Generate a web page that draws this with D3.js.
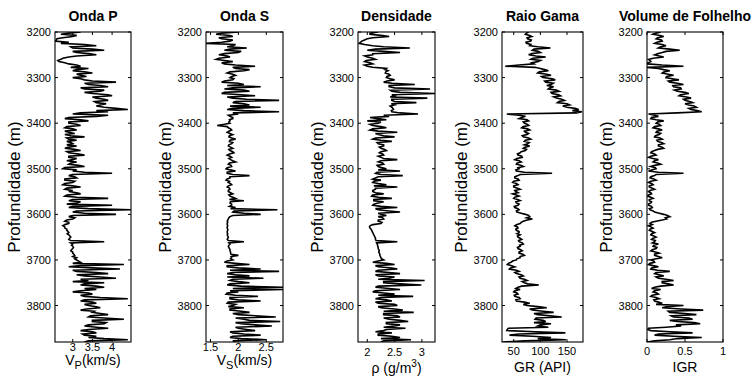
<!DOCTYPE html>
<html>
<head>
<meta charset="utf-8">
<script src="https://cdn.jsdelivr.net/npm/d3@7"></script>
<style>
  body { margin: 0; background: #fff; }
  svg { font-family: "Liberation Sans", Arial, Helvetica, sans-serif; }
</style>
</head>
<body>
<svg id="chart" width="756" height="377"></svg>
<script>
// log samples every 2.5 m, 3200 .. 3880 m
const depth = d3.range(3200, 3881, 2.5);
const depthTicks = [3200, 3300, 3400, 3500, 3600, 3700, 3800];

// Onda P (km/s)
const vp = [
  3.2, 2.9, 2.7, 3.1, 3.0, 2.75, 2.6, 2.58, 2.55, 2.9, 2.7, 3.3, 3.6, 2.95, 3.0, 3.5, 3.8, 3.0, 3.1, 3.4,
  3.6, 3.1, 2.9, 2.75, 2.7, 2.62, 2.65, 2.8, 2.9, 3.1, 3.2, 2.95, 3.4, 3.1, 3.0, 3.3, 3.5, 3.1, 3.2, 3.35,
  3.0, 3.2, 3.3, 3.5, 4.1, 3.3, 3.4, 3.7, 3.9, 3.2, 3.3, 3.8, 3.7, 3.3, 3.5, 3.9, 4.0, 3.5, 3.6, 3.8,
  3.9, 3.55, 3.6, 3.85, 3.7, 3.6, 3.8, 4.1, 4.4, 3.6, 3.9, 3.2, 3.0, 3.9, 3.6, 2.9, 2.8, 3.2, 3.4, 2.9,
  2.9, 3.1, 3.2, 2.85, 2.8, 3.0, 3.1, 2.8, 2.9, 3.05, 2.8, 2.95, 3.3, 2.85, 2.9, 3.1, 2.85, 2.95, 3.0, 2.85,
  3.1, 2.9, 2.8, 3.05, 3.2, 2.85, 2.9, 3.15, 3.3, 2.9, 2.9, 3.1, 3.0, 2.85, 3.1, 2.95, 2.9, 3.15, 3.3, 2.8,
  2.75, 3.1, 3.0, 3.3, 4.0, 3.0, 2.9, 3.05, 3.1, 2.8, 2.8, 3.05, 3.0, 2.8, 2.75, 3.0, 3.2, 2.85, 2.8, 3.0,
  2.9, 3.1, 3.2, 2.85, 2.8, 3.1, 3.9, 3.0, 2.9, 3.2, 3.1, 2.85, 4.0, 3.0, 2.9, 3.4, 4.5, 3.1, 3.0, 3.3,
  4.1, 3.0, 2.9, 3.05, 3.0, 2.85, 2.8, 2.9, 2.9, 2.8, 2.75, 2.8, 2.8, 2.85, 2.85, 2.88, 2.9, 2.86, 2.9, 2.93,
  2.95, 2.92, 2.9, 2.95, 3.8, 2.95, 3.0, 2.97, 3.0, 3.02, 3.0, 2.97, 2.95, 3.0, 3.0, 3.03, 3.05, 3.0, 3.1, 3.05,
  3.1, 3.15, 3.2, 3.0, 4.3, 3.2, 2.9, 3.5, 4.2, 3.0, 3.1, 3.6, 3.9, 3.1, 3.3, 3.7, 4.1, 3.2, 3.4, 3.0,
  3.8, 3.3, 3.2, 3.6, 3.8, 3.3, 3.6, 3.2, 3.0, 3.4, 3.5, 3.2, 3.3, 3.7, 4.4, 3.3, 3.2, 3.5, 3.6, 3.3,
  3.4, 3.6, 3.7, 3.35, 3.2, 3.55, 3.5, 3.7, 3.9, 3.45, 3.4, 3.8, 4.3, 3.5, 3.5, 3.85, 3.8, 3.4, 3.3, 3.6,
  3.9, 3.4, 3.2, 3.5, 3.6, 3.25, 3.3, 3.6, 3.4, 3.8, 4.4, 3.4, 3.3
];

// Onda S (km/s)
const vs = [
  2.0, 1.7, 1.6, 1.85, 1.9, 1.65, 1.7, 1.9, 1.85, 1.7, 1.42, 1.95, 1.9, 1.8, 2.15, 1.85, 1.75, 2.05, 2.0, 1.75,
  1.65, 1.8, 1.85, 1.65, 1.6, 1.75, 1.9, 1.7, 1.75, 1.95, 2.3, 1.9, 1.95, 2.2, 2.1, 1.85, 1.8, 1.9, 1.95, 1.88,
  1.85, 1.92, 1.9, 1.75, 1.7, 2.0, 2.1, 1.8, 2.4, 1.9, 1.75, 2.1, 2.2, 1.75, 1.7, 2.05, 2.3, 1.8, 1.9, 2.15,
  2.73, 1.95, 1.9, 2.1, 2.2, 1.85, 2.4, 1.9, 1.8, 2.1, 2.73, 1.9, 2.0, 1.82, 1.85, 1.9, 1.9, 1.84, 1.85, 1.83,
  1.85, 1.75, 1.62, 1.8, 1.82, 1.86, 1.88, 1.83, 1.8, 1.85, 1.9, 1.84, 1.83, 1.88, 1.95, 1.85, 1.84, 1.9, 1.88, 1.83,
  1.82, 1.86, 1.9, 1.83, 1.85, 1.9, 1.92, 1.84, 1.8, 1.85, 1.88, 1.83, 1.86, 1.9, 1.95, 1.84, 1.82, 1.87, 1.88, 1.8,
  1.78, 1.85, 1.95, 1.8, 1.8, 1.9, 2.2, 1.85, 1.85, 1.8, 1.78, 1.84, 1.82, 1.86, 1.88, 1.82, 1.8, 1.84, 1.85, 1.82,
  1.82, 1.86, 1.9, 1.83, 1.85, 1.9, 1.95, 1.84, 2.1, 1.86, 1.85, 1.88, 1.88, 1.84, 1.95, 1.86, 2.7, 1.92, 1.9, 2.1,
  2.4, 1.9, 1.85, 1.83, 1.82, 1.81, 1.8, 1.81, 1.8, 1.8, 1.81, 1.8, 1.8, 1.81, 1.81, 1.8, 1.8, 1.81, 1.8, 1.81,
  1.82, 1.81, 1.8, 1.82, 2.1, 1.83, 1.85, 1.83, 1.82, 1.83, 1.84, 1.85, 1.85, 1.86, 1.86, 1.87, 2.0, 1.87, 1.88, 1.86,
  1.9, 1.8, 1.75, 1.95, 2.2, 1.8, 1.8, 2.0, 2.4, 1.85, 2.73, 1.9, 1.8, 1.95, 2.2, 1.8, 2.45, 1.9, 1.85, 2.0,
  2.2, 1.85, 1.8, 2.05, 2.8, 1.9, 2.8, 1.85, 2.0, 1.8, 1.78, 1.95, 2.35, 1.85, 1.85, 2.0, 2.4, 1.82, 1.8, 1.95,
  1.9, 1.82, 2.1, 1.85, 1.85, 2.05, 2.2, 1.9, 2.0, 2.3, 2.67, 1.95, 2.1, 2.2, 2.75, 1.95, 2.05, 2.3, 2.6, 1.95,
  2.0, 2.15, 2.3, 1.85, 1.9, 2.1, 2.4, 1.9, 1.85, 2.05, 2.5, 1.9, 1.95
];

// Densidade (g/cm3)
const rho = [
  2.2, 2.05, 2.05, 2.25, 2.4, 2.1, 2.0, 1.95, 1.9, 1.88, 1.85, 1.95, 2.1, 2.3, 2.78, 2.15, 2.0, 2.3, 2.6, 2.1,
  2.1, 1.95, 2.0, 2.1, 2.15, 1.98, 1.95, 2.05, 2.1, 1.95, 2.0, 2.1, 2.35, 2.32, 2.38, 2.34, 2.33, 2.4, 2.42, 2.36,
  2.35, 2.42, 2.5, 2.36, 2.3, 2.45, 2.87, 2.4, 2.4, 2.5, 3.15, 2.42, 2.45, 2.6, 3.24, 2.45, 2.5, 2.42, 3.1, 2.45,
  2.45, 2.5, 2.9, 2.44, 2.5, 2.42, 2.45, 2.47, 2.48, 2.44, 2.45, 2.6, 2.93, 2.3, 2.4, 2.05, 2.2, 2.35, 2.0, 2.25,
  2.2, 2.05, 2.1, 2.25, 2.35, 2.1, 2.05, 2.2, 2.55, 2.15, 2.2, 2.3, 2.5, 2.15, 2.1, 2.25, 2.45, 2.18, 2.2, 2.3,
  2.3, 2.22, 2.25, 2.32, 2.35, 2.25, 2.22, 2.28, 2.3, 2.2, 2.25, 2.3, 2.55, 2.25, 2.2, 2.28, 2.3, 2.18, 2.2, 2.26,
  2.35, 2.2, 2.6, 2.18, 2.15, 2.25, 2.65, 2.2, 2.15, 2.1, 2.25, 2.12, 2.1, 2.2, 2.35, 2.12, 2.55, 2.15, 2.15, 2.1,
  2.1, 2.15, 2.3, 2.1, 2.08, 2.2, 2.45, 2.12, 2.12, 2.3, 2.2, 2.12, 2.1, 2.25, 2.55, 2.15, 2.2, 2.4, 2.6, 2.2,
  2.25, 2.35, 2.2, 2.28, 2.3, 2.2, 2.2, 2.27, 2.25, 2.1, 2.05, 2.04, 2.05, 2.07, 2.08, 2.09, 2.1, 2.11, 2.12, 2.13,
  2.14, 2.15, 2.15, 2.16, 2.55, 2.17, 2.18, 2.19, 2.19, 2.2, 2.2, 2.21, 2.22, 2.21, 2.22, 2.23, 2.23, 2.24, 2.25, 2.26,
  2.3, 2.2, 2.1, 2.35, 2.5, 2.15, 2.2, 2.45, 2.55, 2.2, 2.15, 2.4, 2.6, 2.15, 2.2, 2.5, 2.4, 2.2, 3.05, 2.3,
  2.3, 2.6, 2.99, 2.2, 2.15, 2.4, 2.6, 2.15, 2.1, 2.3, 2.5, 2.2, 2.84, 2.25, 2.15, 2.35, 2.45, 2.15, 2.2, 2.5,
  2.55, 2.2, 2.25, 2.5, 2.65, 2.3, 2.85, 2.3, 2.3, 2.55, 2.6, 2.3, 2.4, 2.6, 2.75, 2.35, 2.35, 2.6, 2.5, 2.3,
  2.7, 2.35, 2.3, 2.15, 2.45, 2.2, 2.2, 2.45, 2.6, 2.25, 2.8, 2.3, 2.25
];

// Raio Gama (API)
const gr = [
  78, 74, 72, 80, 84, 75, 76, 83, 82, 73, 74, 82, 80, 95, 119, 88, 85, 96, 100, 84,
  78, 92, 110, 86, 82, 100, 95, 84, 88, 60, 34, 90, 100, 108, 115, 98, 95, 112, 120, 102,
  105, 122, 128, 108, 110, 124, 120, 112, 125, 118, 115, 130, 135, 120, 122, 134, 138, 125, 130, 140,
  145, 135, 132, 150, 155, 142, 150, 165, 172, 160, 178, 168, 37, 60, 72, 65, 60, 75, 78, 68,
  70, 75, 78, 68, 65, 76, 80, 70, 72, 78, 75, 66, 68, 78, 82, 72, 70, 79, 76, 70,
  80, 72, 68, 74, 72, 64, 62, 57, 58, 65, 66, 56, 52, 60, 64, 56, 55, 63, 68, 58,
  60, 54, 55, 70, 122, 62, 58, 52, 52, 58, 60, 50, 48, 55, 58, 50, 50, 57, 62, 52,
  54, 58, 48, 55, 60, 52, 50, 57, 62, 54, 55, 60, 58, 51, 52, 58, 60, 55, 56, 64,
  72, 78, 80, 74, 85, 75, 68, 64, 62, 55, 52, 57, 58, 54, 55, 60, 60, 56, 62, 57,
  58, 62, 65, 59, 60, 66, 68, 61, 62, 57, 58, 63, 66, 60, 60, 67, 70, 62, 62, 56,
  55, 48, 45, 40, 38, 46, 52, 44, 42, 55, 60, 52, 55, 64, 68, 60, 62, 70, 75, 66,
  70, 76, 97, 65, 58, 54, 62, 52, 50, 56, 58, 51, 52, 60, 62, 54, 55, 70, 80, 68,
  75, 95, 112, 80, 85, 105, 125, 88, 95, 118, 140, 92, 90, 105, 110, 88, 120, 100, 95, 115,
  40, 38, 37, 90, 147, 60, 42, 85, 120, 95, 148, 70, 30
];

// Volume de Folhelho (IGR)
const igr = [
  0.18, 0.12, 0.08, 0.17, 0.22, 0.14, 0.12, 0.19, 0.2, 0.13, 0.1, 0.2, 0.25, 0.18, 0.15, 0.3, 0.43, 0.25, 0.2, 0.14,
  0.1, 0.16, 0.22, 0.08, 0.02, 0.04, 0.05, 0.01, 0.01, 0.2, 0.48, 0.0, 0.15, 0.22, 0.3, 0.22, 0.2, 0.28, 0.35, 0.26,
  0.25, 0.33, 0.42, 0.28, 0.3, 0.4, 0.48, 0.34, 0.35, 0.44, 0.45, 0.36, 0.4, 0.5, 0.55, 0.44, 0.42, 0.52, 0.58, 0.48,
  0.5, 0.56, 0.6, 0.5, 0.55, 0.62, 0.65, 0.55, 0.58, 0.66, 0.72, 0.4, 0.02, 0.1, 0.15, 0.06, 0.05, 0.12, 0.22, 0.14,
  0.12, 0.16, 0.18, 0.1, 0.08, 0.15, 0.2, 0.13, 0.12, 0.18, 0.16, 0.11, 0.1, 0.17, 0.2, 0.13, 0.14, 0.19, 0.22, 0.15,
  0.15, 0.2, 0.22, 0.14, 0.1, 0.06, 0.05, 0.1, 0.12, 0.05, 0.02, 0.08, 0.15, 0.1, 0.08, 0.14, 0.18, 0.1, 0.05, 0.11,
  0.12, 0.06, 0.02, 0.15, 0.48, 0.12, 0.1, 0.05, 0.04, 0.09, 0.12, 0.05, 0.02, 0.06, 0.08, 0.03, 0.03, 0.07, 0.1, 0.04,
  0.02, 0.05, 0.06, 0.02, 0.01, 0.05, 0.08, 0.03, 0.03, 0.06, 0.05, 0.02, 0.02, 0.06, 0.07, 0.03, 0.04, 0.08, 0.1, 0.16,
  0.22, 0.27, 0.3, 0.24, 0.26, 0.2, 0.12, 0.06, 0.04, 0.07, 0.02, 0.05, 0.08, 0.04, 0.03, 0.07, 0.1, 0.06, 0.05, 0.09,
  0.12, 0.08, 0.06, 0.11, 0.1, 0.07, 0.15, 0.09, 0.08, 0.13, 0.12, 0.07, 0.05, 0.11, 0.16, 0.1, 0.1, 0.15, 0.2, 0.12,
  0.05, 0.09, 0.1, 0.04, 0.02, 0.08, 0.15, 0.06, 0.05, 0.14, 0.3, 0.12, 0.1, 0.16, 0.22, 0.12, 0.15, 0.25, 0.35, 0.2,
  0.2, 0.28, 0.35, 0.18, 0.1, 0.06, 0.18, 0.1, 0.08, 0.13, 0.15, 0.07, 0.05, 0.12, 0.16, 0.09, 0.1, 0.15, 0.2, 0.12,
  0.48, 0.25, 0.2, 0.45, 0.74, 0.28, 0.3, 0.5, 0.65, 0.32, 0.35, 0.55, 0.6, 0.3, 0.4, 0.62, 0.7, 0.38, 0.45, 0.25,
  0.02, 0.01, 0.05, 0.3, 0.6, 0.15, 0.1, 0.35, 0.72, 0.4, 0.3, 0.1, 0.0
];

const vpTicks = [3, 3.5, 4];
const vsTicks = [1.5, 2, 2.5];
const rhoTicks = [2, 2.5, 3];
const grTicks = [50, 100, 150];
const igrTicks = [0, 0.5, 1];

const panels = [
  {title: 'Onda P', values: vp, domain: [2.55, 4.48], ticks: vpTicks, left: 55, right: 131,
   label: [{t: 'V'}, {t: 'P', sub: true}, {t: '(km/s)'}], tickY: 351, labelY: 365},
  {title: 'Onda S', values: vs, domain: [1.42, 2.8], ticks: vsTicks, left: 206, right: 283,
   label: [{t: 'V'}, {t: 'S', sub: true}, {t: '(km/s)'}], tickY: 351, labelY: 365},
  {title: 'Densidade', values: rho, domain: [1.83, 3.24], ticks: rhoTicks, left: 358, right: 435,
   label: [{t: 'ρ (g/m'}, {t: '3', sup: true}, {t: ')'}], tickY: 356, labelY: 373},
  {title: 'Raio Gama', values: gr, domain: [28, 180], ticks: grTicks, left: 502, right: 583,
   label: [{t: 'GR (API)'}], tickY: 355, labelY: 372},
  {title: 'Volume de Folhelho', values: igr, domain: [0, 1], ticks: igrTicks, left: 647, right: 723,
   label: [{t: 'IGR'}], tickY: 355, labelY: 372}
];

const plotTop = 32, plotBottom = 342, tickLen = 3;
const svg = d3.select('#chart');

const y = d3.scaleLinear().domain([3200, 3880]).range([plotTop, plotBottom]);

panels.forEach((p, i) => {
  const x = d3.scaleLinear().domain(p.domain).range([p.left, p.right]);
  const g = svg.append('g');

  // clip so spikes stay inside the box
  svg.append('clipPath').attr('id', 'clip' + i)
    .append('rect')
    .attr('x', p.left).attr('y', plotTop)
    .attr('width', p.right - p.left).attr('height', plotBottom - plotTop);

  const line = d3.line()
    .x(v => x(v))
    .y((v, k) => y(depth[k]));

  g.append('path')
    .datum(p.values)
    .attr('clip-path', `url(#clip${i})`)
    .attr('fill', 'none')
    .attr('stroke', '#000')
    .attr('stroke-width', 1.6)
    .attr('d', line);

  // inward ticks on all four sides
  depthTicks.forEach(d => {
    g.append('line').attr('x1', p.left).attr('x2', p.left + tickLen)
      .attr('y1', y(d)).attr('y2', y(d)).attr('stroke', '#000');
    g.append('line').attr('x1', p.right).attr('x2', p.right - tickLen)
      .attr('y1', y(d)).attr('y2', y(d)).attr('stroke', '#000');
    g.append('text')
      .attr('x', p.left - 4).attr('y', y(d) + 4)
      .attr('text-anchor', 'end')
      .attr('font-size', 11)
      .text(d);
  });
  p.ticks.forEach(t => {
    g.append('line').attr('x1', x(t)).attr('x2', x(t))
      .attr('y1', plotBottom).attr('y2', plotBottom - tickLen).attr('stroke', '#000');
    g.append('line').attr('x1', x(t)).attr('x2', x(t))
      .attr('y1', plotTop).attr('y2', plotTop + tickLen).attr('stroke', '#000');
    g.append('text')
      .attr('x', x(t)).attr('y', p.tickY)
      .attr('text-anchor', 'middle')
      .attr('font-size', 11)
      .text(t);
  });

  g.append('rect')
    .attr('x', p.left).attr('y', plotTop)
    .attr('width', p.right - p.left).attr('height', plotBottom - plotTop)
    .attr('fill', 'none')
    .attr('stroke', '#000')
    .attr('stroke-width', 1.1);

  g.append('text')
    .attr('x', (p.left + p.right) / 2).attr('y', 21)
    .attr('text-anchor', 'middle')
    .attr('font-size', 14)
    .attr('font-weight', 'bold')
    .text(p.title);

  // x label, sub/superscript parts shifted then brought back
  const xl = g.append('text')
    .attr('x', (p.left + p.right) / 2).attr('y', p.labelY)
    .attr('text-anchor', 'middle')
    .attr('font-size', 14);
  let shift = 0;
  p.label.forEach(part => {
    const ts = xl.append('tspan').text(part.t);
    let target = 0;
    if (part.sub) { target = 4; ts.attr('font-size', 11); }
    if (part.sup) { target = -6; ts.attr('font-size', 10); }
    if (target !== shift) ts.attr('dy', target - shift);
    shift = target;
  });

  g.append('text')
    .attr('transform', `translate(${p.left - 35},${(plotTop + plotBottom) / 2}) rotate(-90)`)
    .attr('text-anchor', 'middle')
    .attr('font-size', 17)
    .text('Profundidade (m)');
});
</script>
</body>
</html>
